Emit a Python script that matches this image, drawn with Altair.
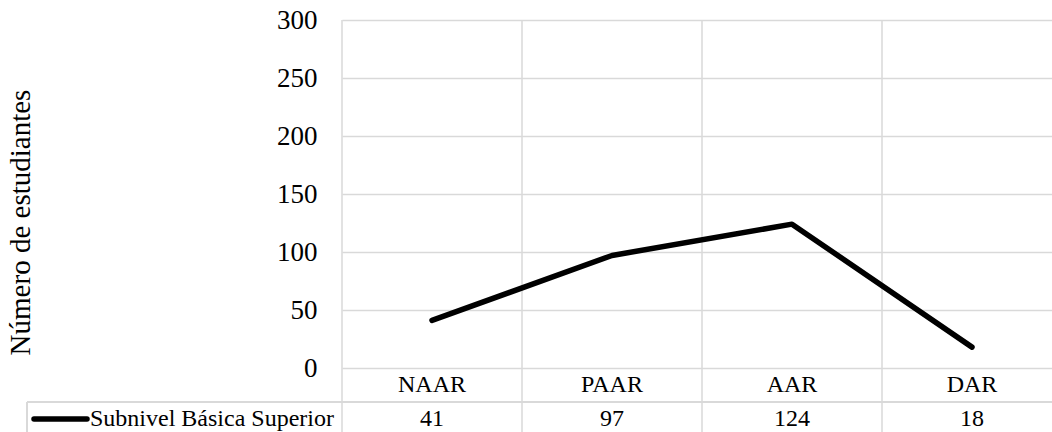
import altair as alt
import pandas as pd

# Achievement levels and number of students in each one
categories = ["NAAR", "PAAR", "AAR", "DAR"]
values = [41, 97, 124, 18]
series_name = "Subnivel Básica Superior"
y_ticks = [0, 50, 100, 150, 200, 250, 300]
y_title = "Número de estudiantes"

FONT = "Liberation Serif"
GRID = "#d9d9d9"
W, H = 710, 348          # plot area
BAND = 180               # pixels per category band
TABLE_ROW = 34           # height of one data-table row

points = pd.DataFrame({
    "nivel": categories,
    "pos": [i + 0.5 for i in range(len(categories))],
    "valor": values,
})
bounds = pd.DataFrame({"b": list(range(len(categories)))})

x_scale = alt.Scale(domain=[0, W / BAND], nice=False, zero=False)

# vertical grid lines: band separators running through the data table
vgrid = alt.Chart(bounds).mark_rule(color=GRID, strokeWidth=1.5).encode(
    x=alt.X("b:Q", scale=x_scale, axis=None),
    y=alt.value(0),
    y2=alt.value(H + 2 * TABLE_ROW + 10),
)

# horizontal border between the category row and the value row
row_line = alt.Chart(points).mark_rule(color=GRID, strokeWidth=1.5).encode(
    x=alt.value(-315), x2=alt.value(W), y=alt.value(H + TABLE_ROW)
)
# left border of the legend cell
legend_border = alt.Chart(points).mark_rule(color=GRID, strokeWidth=1.5).encode(
    x=alt.value(-315), y=alt.value(H + TABLE_ROW), y2=alt.value(H + 2 * TABLE_ROW + 10)
)

line = alt.Chart(points).mark_line(
    color="black", strokeWidth=5.5, strokeCap="round", strokeJoin="round"
).encode(
    x=alt.X("pos:Q", scale=x_scale, axis=None),
    y=alt.Y(
        "valor:Q",
        scale=alt.Scale(domain=[0, 300], nice=False),
        axis=alt.Axis(
            values=y_ticks,
            grid=True,
            gridColor=GRID,
            gridWidth=1.5,
            domain=False,
            ticks=False,
            labelFont=FONT,
            labelFontSize=27,
            labelColor="black",
            labelPadding=25,
            title=y_title,
            titleFont=FONT,
            titleFontSize=29,
            titleFontWeight="normal",
            titleColor="black",
            titleAngle=-90,
            titleAlign="center",
            titleBaseline="middle",
            titleX=-322,
            titleY=202,
        ),
    ),
)

cat_text = alt.Chart(points).mark_text(
    font=FONT, fontSize=24, color="black", baseline="middle"
).encode(
    x=alt.X("pos:Q", scale=x_scale, axis=None),
    y=alt.value(H + TABLE_ROW / 2),
    text="nivel:N",
)

val_text = alt.Chart(points).mark_text(
    font=FONT, fontSize=24, color="black", baseline="middle"
).encode(
    x=alt.X("pos:Q", scale=x_scale, axis=None),
    y=alt.value(H + TABLE_ROW + 17),
    text="valor:Q",
)

# legend key inside the data table
legend_df = pd.DataFrame({"serie": [series_name]})
legend_key = alt.Chart(legend_df).mark_rule(
    color="black", strokeWidth=5.5, strokeCap="round"
).encode(x=alt.value(-308), x2=alt.value(-255), y=alt.value(H + TABLE_ROW + 17))
legend_text = alt.Chart(legend_df).mark_text(
    font=FONT, fontSize=24, color="black", align="left", baseline="middle"
).encode(x=alt.value(-252), y=alt.value(H + TABLE_ROW + 17), text="serie:N")

chart = alt.layer(
    vgrid, row_line, legend_border, line, cat_text, val_text, legend_key, legend_text
).properties(
    width=W,
    height=H,
    autosize=alt.AutoSizeParams(type="none"),
    padding={"left": 342, "top": 20, "right": 0, "bottom": 64},
    background="white",
).configure_view(stroke=None)

chart.save("out.html", embed_options={"renderer": "svg", "actions": False})
